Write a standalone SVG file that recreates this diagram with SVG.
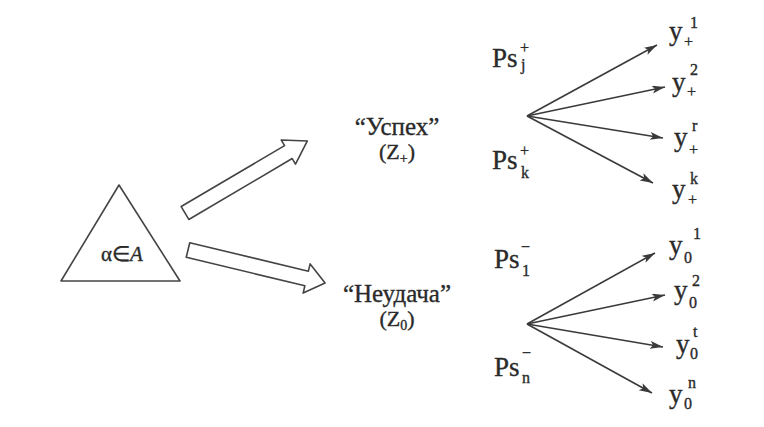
<svg xmlns="http://www.w3.org/2000/svg" width="764" height="427" viewBox="0 0 764 427">
<style>
.ln{stroke:#3a3a3a;stroke-width:1.6;fill:none}
.hl{stroke:#444;stroke-width:1.6;fill:#fff;stroke-linejoin:round}
text{font-family:"Liberation Serif","Times New Roman",serif;fill:#2a2a2a;stroke:#2a2a2a;stroke-width:0.35}
.big{font-size:27px}
.ru{font-size:25px}
.sm{font-size:16px}
</style>
<defs>
<marker id="ah" markerUnits="userSpaceOnUse" markerWidth="16" markerHeight="10" refX="13" refY="4" orient="auto">
<path d="M0,0 L13,4 L0,8 L3,4 Z" fill="#3a3a3a"/>
</marker>
</defs>
<rect width="764" height="427" fill="#fff"/>
<g id="node-alpha">
<polygon class="hl" points="119,185 180,281 61,281"/>
<text x="122" y="261" font-size="21" text-anchor="middle"><tspan>α∈</tspan><tspan font-style="italic">A</tspan></text>
</g>
<g id="node-success">
<text class="ru" x="397" y="135" text-anchor="middle">“Успех”</text>
<text x="397" y="159" font-size="22" text-anchor="middle">(Z<tspan font-size="14" dy="4">+</tspan><tspan dy="-4">)</tspan></text>
</g>
<g id="node-failure">
<text class="ru" x="397" y="302" text-anchor="middle">“Неудача”</text>
<text x="397" y="326" font-size="22" text-anchor="middle">(Z<tspan font-size="14" dy="4">0</tspan><tspan dy="-4">)</tspan></text>
</g>
<g id="labels-ps">
<text class="big" x="492" y="67">Ps</text><text class="sm" x="520" y="53">+</text><text class="sm" x="521" y="70">j</text>
<text class="big" x="492" y="169">Ps</text><text class="sm" x="520" y="156">+</text><text class="sm" x="521" y="178">k</text>
<text class="big" x="494" y="268">Ps</text><text class="sm" x="521" y="252">−</text><text class="sm" x="522" y="276">1</text>
<text class="big" x="494" y="376">Ps</text><text class="sm" x="522" y="358">−</text><text class="sm" x="522" y="383">n</text>
</g>
<g id="labels-y">
<text class="big" x="669" y="40">y</text><text class="sm" x="690" y="28">1</text><text class="sm" x="684" y="47">+</text>
<text class="big" x="672" y="91">y</text><text class="sm" x="690" y="75">2</text><text class="sm" x="687" y="97">+</text>
<text class="big" x="674" y="146">y</text><text class="sm" x="692" y="131">r</text><text class="sm" x="689" y="155">+</text>
<text class="big" x="672" y="198">y</text><text class="sm" x="690" y="184">k</text><text class="sm" x="688" y="205">+</text>
<text class="big" x="669" y="254">y</text><text class="sm" x="693" y="239">1</text><text class="sm" x="684" y="263">0</text>
<text class="big" x="674" y="299">y</text><text class="sm" x="692" y="286">2</text><text class="sm" x="689" y="308">0</text>
<text class="big" x="676" y="353">y</text><text class="sm" x="693" y="337">t</text><text class="sm" x="690" y="359">0</text>
<text class="big" x="669" y="403">y</text><text class="sm" x="688" y="388">n</text><text class="sm" x="684" y="409">0</text>
</g>
<g id="connectors">
<polygon class="hl" transform="translate(185,213) rotate(-30.5)" points="0,-7.5 120,-7.5 120,-14 142,0 120,14 120,7.5 0,7.5"/>
<polygon class="hl" transform="translate(188,250) rotate(13.5)" points="0,-7.5 122,-7.5 122,-15 141,0 122,15 122,7.5 0,7.5"/>
<line class="ln" x1="527" y1="116" x2="657" y2="45" marker-end="url(#ah)"/>
<line class="ln" x1="527" y1="116" x2="665" y2="87" marker-end="url(#ah)"/>
<line class="ln" x1="527" y1="116" x2="663" y2="138" marker-end="url(#ah)"/>
<line class="ln" x1="527" y1="116" x2="653" y2="183" marker-end="url(#ah)"/>
<line class="ln" x1="527" y1="324" x2="655" y2="253" marker-end="url(#ah)"/>
<line class="ln" x1="527" y1="324" x2="665" y2="295" marker-end="url(#ah)"/>
<line class="ln" x1="527" y1="324" x2="663" y2="347" marker-end="url(#ah)"/>
<line class="ln" x1="527" y1="324" x2="652" y2="393" marker-end="url(#ah)"/>
</g>
</svg>
